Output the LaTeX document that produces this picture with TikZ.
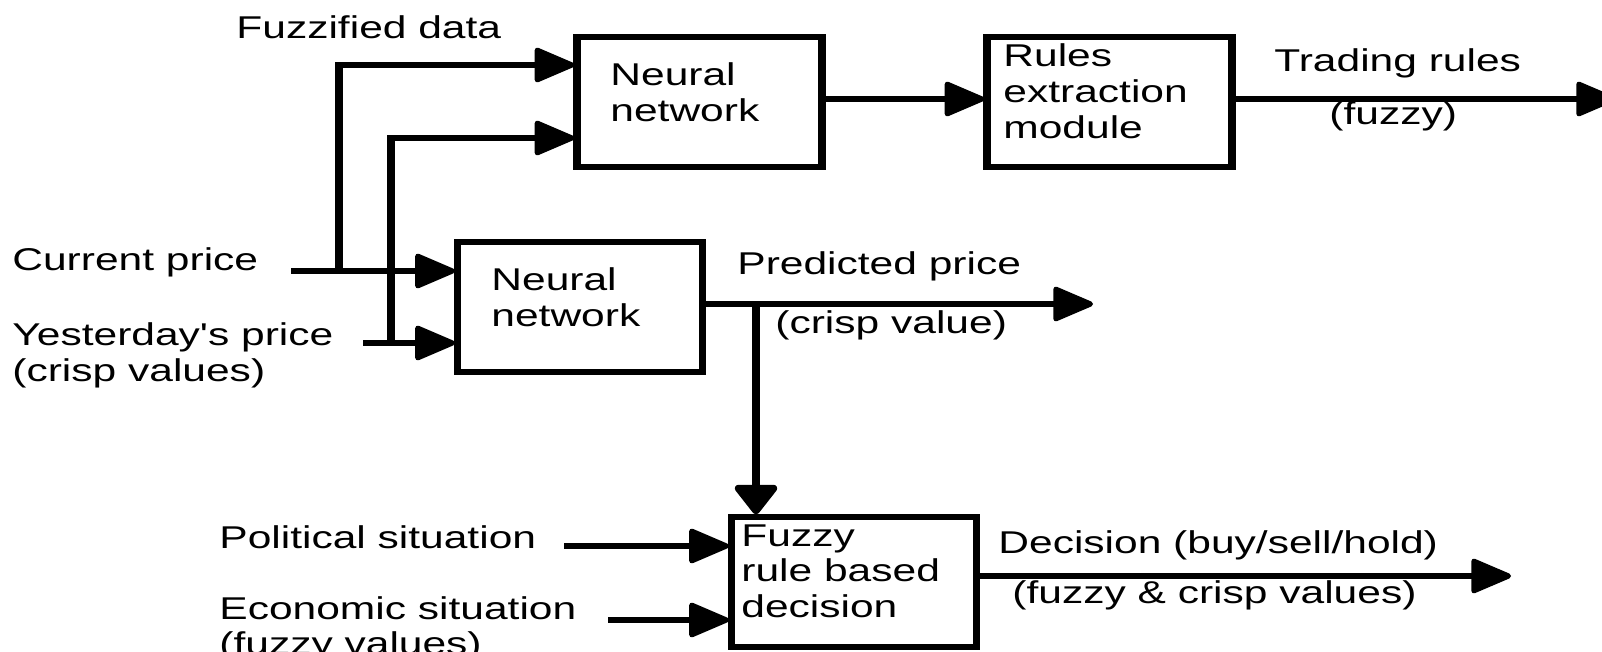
\documentclass[tikz,border=0pt]{standalone}
\usepackage{fontspec}
\setmainfont{Liberation Sans}[FakeStretch=1.35, Ligatures=TeXOff]
\usetikzlibrary{arrows.meta}
\begin{document}
\begin{tikzpicture}[x=0.5pt,y=-0.5pt,
  font=\fontsize{15.75pt}{17.9pt}\selectfont,
  blk/.style={draw, line width=2.6pt, minimum width=122.5pt, minimum height=65pt, inner sep=0pt},
  hl/.style={line width=2.6pt},
  vl/.style={line width=3.6pt},
  arr/.style={hl, -{Triangle[length=22pt,width=18pt,round]}},
  varr/.style={vl, -{Triangle[length=16pt,width=24pt,round]}},
  lbl/.style={anchor=base west, inner sep=0pt},
]
\useasboundingbox (0,0) rectangle (1602,652);

% boxes
\node[blk] (nn1) at (699.5,102) {};
\node[blk] (rules) at (1109.5,102) {};
\node[blk] (nn2) at (580,307) {};
\node[blk] (fz) at (854,582) {};
\foreach \b in {nn1,rules,nn2,fz}{
  \draw[vl] ([xshift=1.3pt]\b.north west) -- ([xshift=1.3pt]\b.south west)
            ([xshift=-1.3pt]\b.north east) -- ([xshift=-1.3pt]\b.south east);
}

% connector points
\coordinate (cp) at (291,271);
\coordinate (j1) at (339,271);
\coordinate (u1) at (339,65);
\coordinate (yp) at (363,343);
\coordinate (j2) at (391,343);
\coordinate (u2) at (391,138);
\coordinate (lv1) at (0,99);
\coordinate (o1) at (1616,99);
\coordinate (o2) at (1093,304);
\coordinate (j3) at (756,304);
\coordinate (ps) at (564,546);
\coordinate (es) at (608,620);
\coordinate (o3) at (1511,576);

% connectors
\draw[arr] (cp) -- (cp -| nn2.west);
\draw[arr] (yp) -- (yp -| nn2.west);
\draw[vl] (j1) -- ([yshift=1.3pt]u1);
\draw[arr] (u1) -- (u1 -| nn1.west);
\draw[vl] (j2) -- ([yshift=1.3pt]u2);
\draw[arr] (u2) -- (u2 -| nn1.west);
\draw[arr] (nn1.east |- lv1) -- (rules.west |- lv1);
\draw[arr] (rules.east |- o1) -- (o1);
\draw[arr] (nn2.east |- o2) -- (o2);
\draw[varr] (j3) -- (j3 |- fz.north);
\draw[arr] (ps) -- (ps -| fz.west);
\draw[arr] (es) -- (es -| fz.west);
\draw[arr] (fz.east |- o3) -- (o3);

% texts
\node[lbl] (tfd) at (236,39) {Fuzzified data};
\node[lbl] (tnn1) at (610,86) {\vtop{\hbox{Neural}\hbox{network}}};
\node[lbl] (trl) at (1003,67) {\vtop{\hbox{Rules}\hbox{extraction}\hbox{module}}};
\node[lbl] (ttr) at (1274,72) {Trading rules};
\node[lbl] (tfy) at (1329,125) {(fuzzy)};
\node[lbl] (tcp) at (12,271) {Current price};
\node[lbl] (typ) at (12,346) {\vtop{\hbox{Yesterday's price}\hbox{(crisp values)}}};
\node[lbl] (tnn2) at (491,291) {\vtop{\hbox{Neural}\hbox{network}}};
\node[lbl] (tpp) at (737,275) {Predicted price};
\node[lbl] (tcv) at (775,334) {(crisp value)};
\node[lbl] (tps) at (219,548) {Political situation};
\node[lbl] (tes) at (219,619) {\vtop{\hbox{Economic situation}\hbox{(fuzzy values)}}};
\node[lbl] (tfr) at (741,546) {\vtop{\hbox{Fuzzy}\hbox{rule based}\hbox{decision}}};
\node[lbl] (tdc) at (998,553) {Decision (buy/sell/hold)};
\node[lbl] (tfc) at (1012,603) {(fuzzy \& crisp values)};
\end{tikzpicture}
\end{document}
